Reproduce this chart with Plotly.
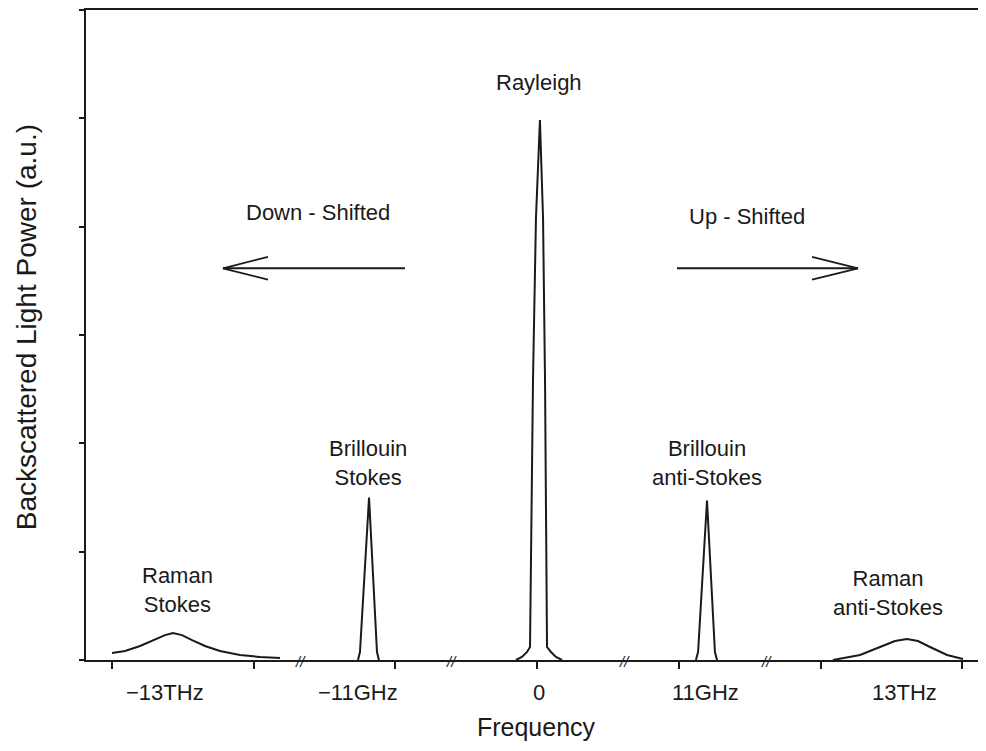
import plotly.graph_objects as go

# ---- data (x in tick units: ticks at 0..6; y in arbitrary units) ----
rayleigh_x = [2.851, 2.893, 2.929, 2.950, 2.971, 2.992, 3.020, 3.042, 3.056, 3.070, 3.098, 3.133, 3.176]
rayleigh_y = [0.0, 0.028, 0.074, 0.12, 2.577, 4.077, 4.985, 4.077, 2.577, 0.12, 0.074, 0.028, 0.0]

brill_stokes_x = [1.736, 1.750, 1.814, 1.870, 1.884]
brill_stokes_y = [0.0, 0.074, 1.50, 0.074, 0.0]

brill_anti_x = [4.121, 4.136, 4.199, 4.255, 4.270]
brill_anti_y = [0.0, 0.074, 1.472, 0.074, 0.0]

raman_stokes_x = [0.0, 0.092, 0.198, 0.303, 0.374, 0.430, 0.494, 0.565, 0.656, 0.762, 0.903, 1.044, 1.186]
raman_stokes_y = [0.064, 0.083, 0.129, 0.193, 0.230, 0.248, 0.230, 0.184, 0.129, 0.083, 0.046, 0.028, 0.018]

raman_anti_x = [5.088, 5.279, 5.420, 5.526, 5.610, 5.688, 5.773, 5.893, 6.006]
raman_anti_y = [0.0, 0.046, 0.120, 0.175, 0.193, 0.175, 0.120, 0.046, 0.009]

tick_positions = [0, 1, 2, 3, 4, 5, 6]
y_tick_positions = [0, 1, 2, 3, 4, 5, 6]
tick_labels = ["\u221213THz", "\u221211GHz", "0", "11GHz", "13THz"]
tick_label_x = [0.374, 1.736, 3.013, 4.185, 5.596]
break_x = [1.327, 2.399, 3.620, 4.622]

peak_labels = ["Rayleigh", "Brillouin<br>Stokes", "Brillouin<br>anti-Stokes",
               "Raman<br>Stokes", "Raman<br>anti-Stokes"]
peak_label_x = [3.013, 1.807, 4.199, 0.459, 5.476]
peak_label_y = [5.33, 1.82, 1.82, 0.65, 0.62]

direction_labels = ["Down - Shifted", "Up - Shifted"]
direction_label_x = [1.451, 4.480]
direction_label_y = [4.13, 4.09]
# arrows: tail x, tip x, y, barb x, barb y offsets
arrow_tail_x = [2.068, 3.987]
arrow_tip_x = [0.783, 5.265]
arrow_y = [3.616, 3.616]
arrow_barb_x = [1.101, 4.940]
arrow_barb_dy = [0.105, -0.105]

x_title = "Frequency"
y_title = "Backscattered Light Power (a.u.)"

FONT = "Arial, Liberation Sans, sans-serif"
INK = "#1a1a1a"

fig = go.Figure()
for xs, ys in [(rayleigh_x, rayleigh_y), (brill_stokes_x, brill_stokes_y),
               (brill_anti_x, brill_anti_y), (raman_stokes_x, raman_stokes_y),
               (raman_anti_x, raman_anti_y)]:
    fig.add_trace(go.Scatter(x=xs, y=ys, mode="lines",
                             line=dict(color=INK, width=2),
                             showlegend=False, hoverinfo="skip"))

ann = []
for t, x in zip(tick_labels, tick_label_x):
    ann.append(dict(x=x, y=0, xref="x", yref="y", text=t, showarrow=False,
                    yshift=-32, font=dict(size=22, family=FONT, color=INK)))
for t, x, y in zip(peak_labels, peak_label_x, peak_label_y):
    ann.append(dict(x=x, y=y, xref="x", yref="y", text=t, showarrow=False,
                    font=dict(size=22, family=FONT, color=INK)))
for t, x, y in zip(direction_labels, direction_label_x, direction_label_y):
    ann.append(dict(x=x, y=y, xref="x", yref="y", text=t, showarrow=False,
                    font=dict(size=22, family=FONT, color=INK)))
for x in break_x:
    ann.append(dict(x=x, y=0, xref="x", yref="y", text="<i>//</i>", showarrow=False,
                    yshift=-1, font=dict(size=15, family=FONT, color=INK)))
# y-axis title
ann.append(dict(x=0, y=0.512, xref="paper", yref="paper", text=y_title, showarrow=False,
                textangle=-90, xanchor="center", yanchor="middle", xshift=-60,
                font=dict(size=28, family=FONT, color=INK)))

shapes = []
for tx, hx, y, bx, dy in zip(arrow_tail_x, arrow_tip_x, arrow_y, arrow_barb_x, arrow_barb_dy):
    shapes.append(dict(type="line", xref="x", yref="y", x0=tx, y0=y, x1=hx, y1=y,
                       line=dict(color=INK, width=1.8)))
    shapes.append(dict(type="line", xref="x", yref="y", x0=bx, y0=y + abs(dy), x1=hx, y1=y,
                       line=dict(color=INK, width=1.8)))
    shapes.append(dict(type="line", xref="x", yref="y", x0=bx, y0=y - abs(dy), x1=hx, y1=y,
                       line=dict(color=INK, width=1.8)))

fig.update_layout(
    width=978, height=743,
    margin=dict(l=78, r=0, t=2, b=91),
    paper_bgcolor="white", plot_bgcolor="white",
    annotations=ann, shapes=shapes,
    xaxis=dict(range=[-0.1835, 6.168], showgrid=False, zeroline=False,
               showline=True, linecolor=INK, linewidth=2, mirror=True,
               tickvals=tick_positions, ticks="outside", ticklen=7, tickwidth=2,
               tickcolor=INK, showticklabels=False,
               title=dict(text=x_title, font=dict(size=25, family=FONT, color=INK),
                          standoff=50)),
    yaxis=dict(range=[0, 6], showgrid=False, zeroline=False,
               showline=True, linecolor=INK, linewidth=2,
               tickvals=y_tick_positions, ticks="outside", ticklen=5, tickwidth=1.5,
               tickcolor=INK, showticklabels=False),
)

fig.write_html("out.html")
